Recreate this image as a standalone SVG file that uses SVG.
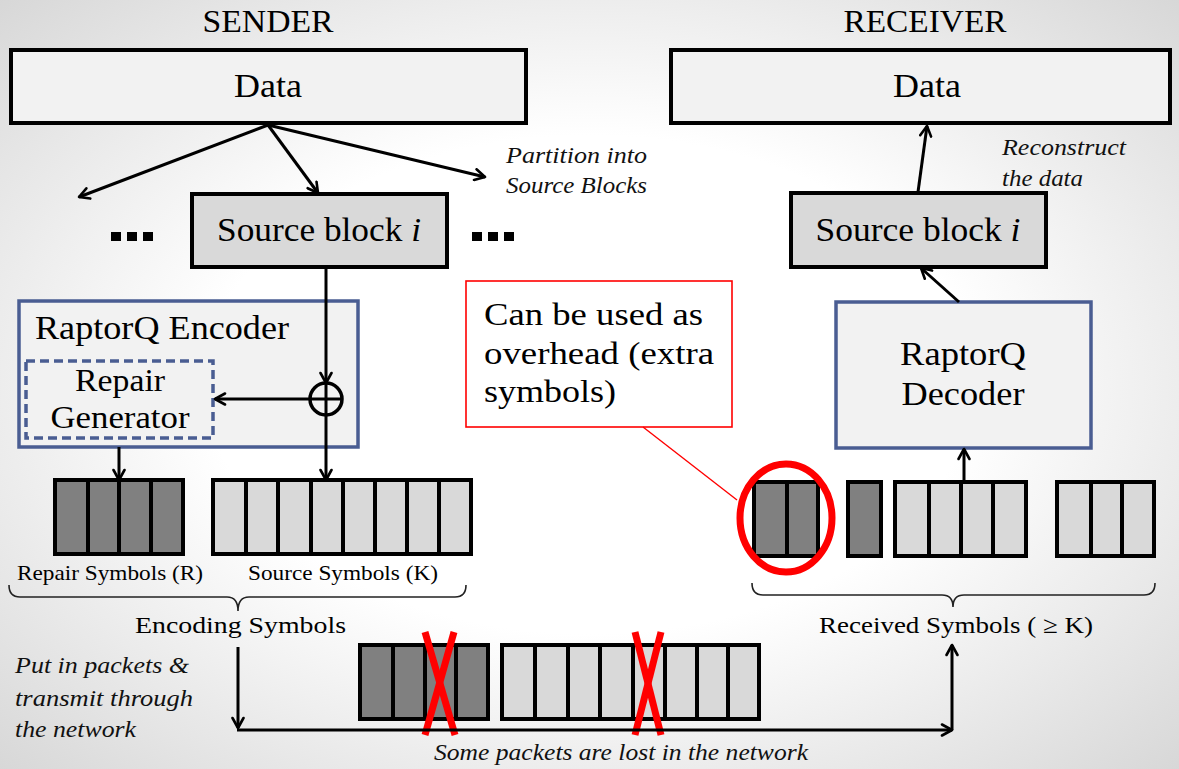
<svg xmlns="http://www.w3.org/2000/svg" width="1179" height="769" viewBox="0 0 1179 769">
<defs>
<radialGradient id="bg" cx="50%" cy="50%" r="72%">
<stop offset="0.45" stop-color="#ffffff"/>
<stop offset="1" stop-color="#d6d6d6"/>
</radialGradient>
<marker id="arr" viewBox="0 0 14 14" refX="12" refY="7" markerWidth="14" markerHeight="14" markerUnits="userSpaceOnUse" orient="auto">
<path d="M2,1.5 L12,7 L2,12.5" fill="none" stroke="#000" stroke-width="2.6" stroke-linecap="round" stroke-linejoin="round"/>
</marker>
<style>
.t{font-family:"Liberation Serif","Times New Roman",serif;fill:#000}
.it{font-family:"Liberation Serif","Times New Roman",serif;font-style:italic;fill:#111}
.box{fill:#f2f2f2;stroke:#000;stroke-width:4}
.sb{fill:#d9d9d9;stroke:#000;stroke-width:4}
.blue{fill:#f2f2f2;stroke:#4a5d92;stroke-width:3.5}
.dash{fill:none;stroke:#4a5d92;stroke-width:3.5;stroke-dasharray:9 5}
.dk{fill:#808080;stroke:#000;stroke-width:4}
.lt{fill:#d9d9d9;stroke:#000;stroke-width:4}
.dv{stroke:#000;stroke-width:4}
.c{fill:none;stroke:#000;stroke-width:3}
.brace{fill:none;stroke:#222;stroke-width:1.6}
.x{stroke:#ff0000;stroke-width:7}
.dot{fill:#000}
</style>
</defs>
<rect x="0" y="0" width="1179" height="769" fill="url(#bg)"/>

<text class="t" x="268" y="32" font-size="31" text-anchor="middle" textLength="131" lengthAdjust="spacingAndGlyphs">SENDER</text>
<text class="t" x="925" y="32" font-size="31" text-anchor="middle" textLength="163" lengthAdjust="spacingAndGlyphs">RECEIVER</text>

<g id="sender-data">
<rect class="box" x="11" y="50" width="515" height="73"/>
<text class="t" x="268" y="97" font-size="34" text-anchor="middle" textLength="68" lengthAdjust="spacingAndGlyphs">Data</text>
</g>
<g id="receiver-data">
<rect class="box" x="671" y="50" width="499" height="73"/>
<text class="t" x="927" y="97" font-size="34" text-anchor="middle" textLength="68" lengthAdjust="spacingAndGlyphs">Data</text>
</g>

<g id="sender-source-block">
<rect class="sb" x="192" y="194" width="255" height="73"/>
<text class="t" x="319" y="241" font-size="33" text-anchor="middle" textLength="204" lengthAdjust="spacingAndGlyphs">Source block <tspan font-style="italic">i</tspan></text>
</g>
<g id="dots-left">
<rect class="dot" x="111" y="232" width="10" height="9"/>
<rect class="dot" x="127" y="232" width="10" height="9"/>
<rect class="dot" x="143" y="232" width="10" height="9"/>
</g>
<g id="dots-right">
<rect class="dot" x="472" y="232" width="10" height="9"/>
<rect class="dot" x="488" y="232" width="10" height="9"/>
<rect class="dot" x="504" y="232" width="10" height="9"/>
</g>
<g id="partition-label">
<text class="it" x="506" y="163" font-size="24" textLength="141" lengthAdjust="spacingAndGlyphs">Partition into</text>
<text class="it" x="506" y="193" font-size="24" textLength="141" lengthAdjust="spacingAndGlyphs">Source Blocks</text>
</g>

<g id="receiver-source-block">
<rect class="sb" x="791" y="193" width="255" height="74"/>
<text class="t" x="918" y="241" font-size="33" text-anchor="middle" textLength="205" lengthAdjust="spacingAndGlyphs">Source block <tspan font-style="italic">i</tspan></text>
</g>
<g id="reconstruct-label">
<text class="it" x="1002" y="155" font-size="24" textLength="124" lengthAdjust="spacingAndGlyphs">Reconstruct</text>
<text class="it" x="1002" y="186" font-size="24" textLength="81" lengthAdjust="spacingAndGlyphs">the data</text>
</g>

<g id="encoder">
<rect class="blue" x="19" y="301" width="339" height="146"/>
<text class="t" x="35" y="339" font-size="33" textLength="254" lengthAdjust="spacingAndGlyphs">RaptorQ Encoder</text>
</g>
<g id="repair-generator">
<rect class="dash" x="26" y="361" width="187" height="77"/>
<text class="t" x="120" y="391" font-size="32" text-anchor="middle" textLength="90" lengthAdjust="spacingAndGlyphs">Repair</text>
<text class="t" x="120" y="428" font-size="32" text-anchor="middle" textLength="139" lengthAdjust="spacingAndGlyphs">Generator</text>
</g>
<g id="xor">
<circle cx="326" cy="399" r="16" fill="none" stroke="#000" stroke-width="3.5"/>
<line x1="310" y1="399" x2="342" y2="399" stroke="#000" stroke-width="3"/>
<line x1="326" y1="383" x2="326" y2="415" stroke="#000" stroke-width="3"/>
</g>

<g id="repair-symbols">
<rect class="dk" x="55" y="480" width="128" height="74"/>
<line class="dv" x1="88" y1="480" x2="88" y2="554"/>
<line class="dv" x1="119" y1="480" x2="119" y2="554"/>
<line class="dv" x1="151" y1="480" x2="151" y2="554"/>
<text class="t" x="17" y="580" font-size="21" textLength="186" lengthAdjust="spacingAndGlyphs">Repair Symbols (R)</text>
</g>
<g id="source-symbols">
<rect class="lt" x="213" y="480" width="258" height="74"/>
<line class="dv" x1="246" y1="480" x2="246" y2="554"/>
<line class="dv" x1="278" y1="480" x2="278" y2="554"/>
<line class="dv" x1="311" y1="480" x2="311" y2="554"/>
<line class="dv" x1="343" y1="480" x2="343" y2="554"/>
<line class="dv" x1="375" y1="480" x2="375" y2="554"/>
<line class="dv" x1="407" y1="480" x2="407" y2="554"/>
<line class="dv" x1="439" y1="480" x2="439" y2="554"/>
<text class="t" x="248" y="580" font-size="21" textLength="190" lengthAdjust="spacingAndGlyphs">Source Symbols (K)</text>
</g>
<g id="encoding-symbols">
<path class="brace" d="M9,585 Q9,597 20,597 L227,597 Q238,597 238,611 Q238,597 249,597 L455,597 Q466,597 466,585"/>
<text class="t" x="135" y="633" font-size="24" textLength="211" lengthAdjust="spacingAndGlyphs">Encoding Symbols</text>
</g>

<g id="transmit-label">
<text class="it" x="15" y="673" font-size="24" textLength="174" lengthAdjust="spacingAndGlyphs">Put in packets &amp;</text>
<text class="it" x="15" y="706" font-size="24" textLength="178" lengthAdjust="spacingAndGlyphs">transmit through</text>
<text class="it" x="15" y="737" font-size="24" textLength="121" lengthAdjust="spacingAndGlyphs">the network</text>
</g>

<g id="packets-repair">
<rect class="dk" x="360" y="645" width="128" height="74"/>
<line class="dv" x1="393" y1="645" x2="393" y2="719"/>
<line class="dv" x1="425" y1="645" x2="425" y2="719"/>
<line class="dv" x1="456" y1="645" x2="456" y2="719"/>
<line class="x" x1="425" y1="632" x2="455" y2="735"/>
<line class="x" x1="454" y1="632" x2="425" y2="735"/>
</g>
<g id="packets-source">
<rect class="lt" x="502" y="645" width="257" height="74"/>
<line class="dv" x1="535" y1="645" x2="535" y2="719"/>
<line class="dv" x1="568" y1="645" x2="568" y2="719"/>
<line class="dv" x1="600" y1="645" x2="600" y2="719"/>
<line class="dv" x1="633" y1="645" x2="633" y2="719"/>
<line class="dv" x1="665" y1="645" x2="665" y2="719"/>
<line class="dv" x1="697" y1="645" x2="697" y2="719"/>
<line class="dv" x1="728" y1="645" x2="728" y2="719"/>
<line class="x" x1="635" y1="632" x2="661" y2="735"/>
<line class="x" x1="661" y1="632" x2="635" y2="735"/>
</g>
<text class="it" x="434" y="760" font-size="24" textLength="374" lengthAdjust="spacingAndGlyphs">Some packets are lost in the network</text>

<g id="callout">
<rect x="466" y="281" width="266" height="146" fill="#ffffff" stroke="#ff0000" stroke-width="1.6"/>
<text class="t" x="484" y="325" font-size="32" textLength="219" lengthAdjust="spacingAndGlyphs">Can be used as</text>
<text class="t" x="484" y="364" font-size="32" textLength="230" lengthAdjust="spacingAndGlyphs">overhead (extra</text>
<text class="t" x="484" y="402" font-size="32" textLength="132" lengthAdjust="spacingAndGlyphs">symbols)</text>
</g>

<g id="decoder">
<rect class="blue" x="836" y="302" width="255" height="146"/>
<text class="t" x="963" y="365" font-size="33" text-anchor="middle" textLength="126" lengthAdjust="spacingAndGlyphs">RaptorQ</text>
<text class="t" x="963" y="405" font-size="33" text-anchor="middle" textLength="123" lengthAdjust="spacingAndGlyphs">Decoder</text>
</g>

<g id="received-symbols">
<rect class="dk" x="754" y="482" width="64" height="74"/>
<line class="dv" x1="787" y1="482" x2="787" y2="556"/>
<rect class="dk" x="848" y="482" width="33" height="74"/>
<rect class="lt" x="895" y="482" width="131" height="74"/>
<line class="dv" x1="929" y1="482" x2="929" y2="556"/>
<line class="dv" x1="961" y1="482" x2="961" y2="556"/>
<line class="dv" x1="993" y1="482" x2="993" y2="556"/>
<rect class="lt" x="1057" y="482" width="97" height="74"/>
<line class="dv" x1="1091" y1="482" x2="1091" y2="556"/>
<line class="dv" x1="1122" y1="482" x2="1122" y2="556"/>
<ellipse cx="786" cy="518" rx="46" ry="54" fill="none" stroke="#ff0000" stroke-width="7"/>
<path class="brace" d="M752,583 Q752,595 763,595 L942,595 Q953,595 953,607 Q953,595 964,595 L1144,595 Q1155,595 1155,583"/>
<text class="t" x="819" y="633" font-size="24" textLength="274" lengthAdjust="spacingAndGlyphs">Received Symbols ( ≥ K)</text>
</g>

<g id="connectors">
<line class="c" x1="268" y1="125" x2="79" y2="197" marker-end="url(#arr)"/>
<line class="c" x1="268" y1="125" x2="318" y2="193" marker-end="url(#arr)"/>
<line class="c" x1="268" y1="125" x2="485" y2="177" marker-end="url(#arr)"/>
<line class="c" x1="326" y1="267" x2="326" y2="383" marker-end="url(#arr)"/>
<line class="c" x1="310" y1="399" x2="215" y2="399" marker-end="url(#arr)"/>
<line class="c" x1="326" y1="415" x2="326" y2="480" marker-end="url(#arr)"/>
<line class="c" x1="119" y1="447" x2="119" y2="480" marker-end="url(#arr)"/>
<line class="c" x1="238" y1="647" x2="238" y2="728" marker-end="url(#arr)"/>
<line class="c" x1="237" y1="730" x2="952" y2="730" marker-end="url(#arr)"/>
<line class="c" x1="952" y1="730" x2="952" y2="645" marker-end="url(#arr)"/>
<line class="c" x1="964" y1="482" x2="964" y2="449" marker-end="url(#arr)"/>
<line class="c" x1="959" y1="302" x2="921" y2="268" marker-end="url(#arr)"/>
<line class="c" x1="918" y1="192" x2="927" y2="126" marker-end="url(#arr)"/>
<line x1="643" y1="427" x2="737" y2="500" stroke="#ff0000" stroke-width="1.4"/>
</g>
</svg>
